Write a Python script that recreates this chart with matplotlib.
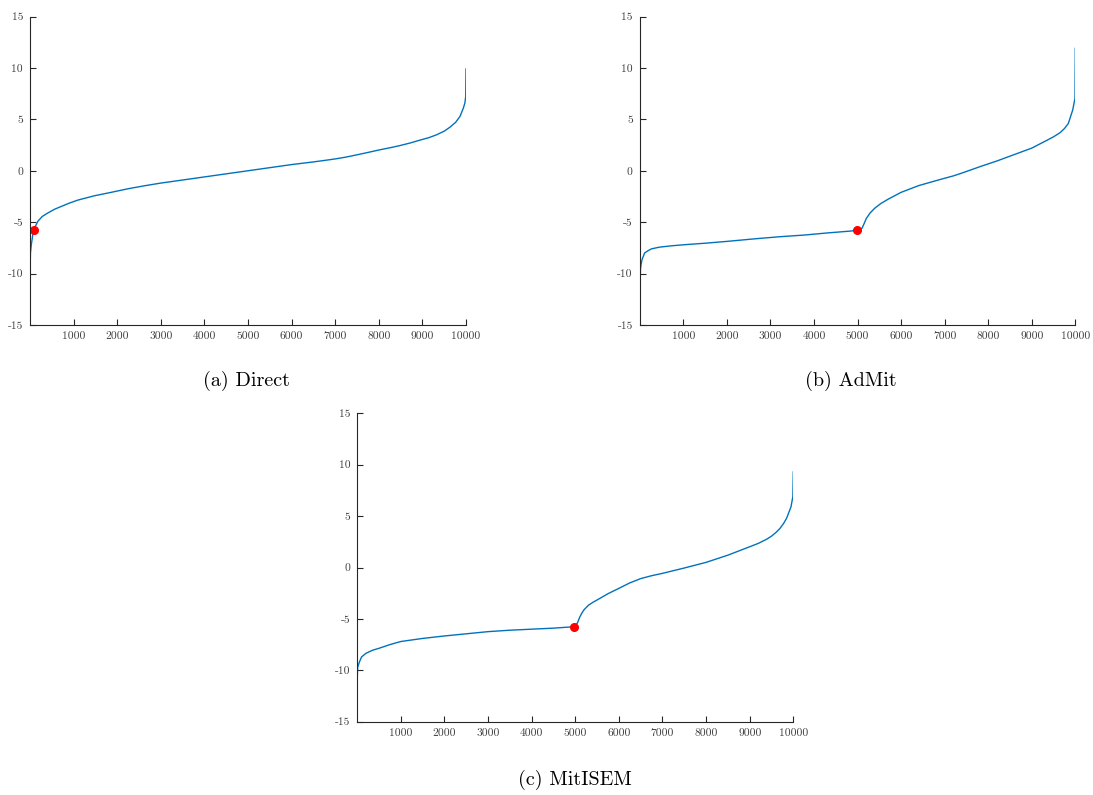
import matplotlib
matplotlib.use("Agg")
import matplotlib.pyplot as plt

plt.rcParams['font.family'] = ['cmr10', 'DejaVu Serif']
plt.rcParams['axes.unicode_minus'] = False
plt.rcParams['mathtext.fontset'] = 'cm'

# ---- data (sorted sample values) ----
direct_x = [1, 10, 30, 70, 90, 130, 183, 280, 412, 560, 718, 900, 1100, 1480, 1862,
            2250, 2627, 3000, 3500, 4000, 4500, 5000, 5500, 6000, 6500, 6750, 7000,
            7250, 7500, 7750, 8027, 8250, 8486, 8720, 8945, 9150, 9327, 9500, 9633,
            9760, 9862, 9939, 9975, 9993, 10000]
direct_y = [-10.1, -8.0, -7.2, -6.05, -5.73, -5.35, -4.9, -4.45, -4.1, -3.75, -3.47,
            -3.15, -2.85, -2.43, -2.1, -1.75, -1.46, -1.2, -0.9, -0.6, -0.3, 0.0, 0.3,
            0.6, 0.86, 1.0, 1.15, 1.33, 1.55, 1.78, 2.04, 2.23, 2.45, 2.7, 2.98, 3.22,
            3.5, 3.85, 4.24, 4.7, 5.28, 6.09, 6.6, 7.2, 9.9]
direct_marker = (90, -5.73)

admit_x = [1, 5, 15, 30, 50, 110, 180, 265, 450, 725, 1000, 1490, 2000, 2640, 3200,
           3786, 4300, 4857, 4987, 5102, 5150, 5202, 5290, 5393, 5530, 5700, 6000,
           6400, 6730, 7000, 7200, 7400, 7600, 7812, 8200, 8577, 9000, 9343, 9500,
           9649, 9750, 9840, 9940, 9993, 10000]
admit_y = [-14.0, -11.5, -9.6, -9.1, -8.66, -8.0, -7.8, -7.6, -7.43, -7.3, -7.2, -7.05,
           -6.87, -6.62, -6.42, -6.25, -6.05, -5.86, -5.76, -5.6, -5.15, -4.63, -4.1,
           -3.65, -3.2, -2.77, -2.1, -1.45, -1.05, -0.73, -0.5, -0.22, 0.08, 0.4, 0.95,
           1.54, 2.2, 2.95, 3.3, 3.7, 4.1, 4.6, 5.9, 7.05, 11.9]
admit_marker = (4987, -5.76)

mitisem_x = [1, 10, 50, 100, 200, 350, 500, 750, 1000, 1500, 2000, 2500, 3000, 3500,
             4000, 4500, 4973, 5050, 5100, 5150, 5200, 5300, 5400, 5500, 5750, 6000,
             6250, 6500, 6750, 7000, 7500, 8000, 8500, 9007, 9200, 9389, 9500, 9600,
             9694, 9780, 9847, 9947, 9990, 10000]
mitisem_y = [-10.8, -9.7, -9.2, -8.7, -8.35, -8.05, -7.86, -7.5, -7.2, -6.9, -6.66,
             -6.45, -6.24, -6.1, -6.0, -5.9, -5.76, -5.4, -4.85, -4.45, -4.12, -3.68,
             -3.4, -3.16, -2.55, -2.03, -1.5, -1.08, -0.8, -0.57, -0.05, 0.5, 1.2, 2.03,
             2.35, 2.75, 3.05, 3.4, 3.8, 4.3, 4.8, 5.9, 6.9, 9.3]
mitisem_marker = (4973, -5.76)

captions = ["(a) Direct", "(b) AdMit", "(c) MitISEM"]
x_ticks = [1000, 2000, 3000, 4000, 5000, 6000, 7000, 8000, 9000, 10000]
y_ticks = [-15, -10, -5, 0, 5, 10, 15]

W, H = 1093, 795
fig = plt.figure(figsize=(W / 100, H / 100), dpi=100)

# axes rectangles in pixels: left, top, right, bottom
rects = [(30, 16.5, 466, 325), (639.8, 16.5, 1075.3, 325), (357.2, 413.3, 793.3, 721.7)]
series = [(direct_x, direct_y, direct_marker),
          (admit_x, admit_y, admit_marker),
          (mitisem_x, mitisem_y, mitisem_marker)]
cap_pos = [(246, 381), (851, 381), (575, 780)]

dark = '#262626'
for (l, t, r, b), (xs, ys, mk), cap, (cx, cy) in zip(rects, series, captions, cap_pos):
    ax = fig.add_axes([l / W, 1 - b / H, (r - l) / W, (b - t) / H])
    ax.plot(xs, ys, color='#0072BD', lw=1.0)
    ax.plot([mk[0]], [mk[1]], 'o', color='#FF0000', ms=5.5, mec='#FF0000')
    ax.set_xlim(0, 10000)
    ax.set_ylim(-15, 15)
    ax.set_xticks(x_ticks)
    ax.set_yticks(y_ticks)
    for s in ['top', 'right']:
        ax.spines[s].set_visible(False)
    for s in ['left', 'bottom']:
        ax.spines[s].set_color(dark)
        ax.spines[s].set_linewidth(0.8)
    ax.tick_params(direction='in', length=4, width=0.8, colors=dark,
                   labelsize=8.3, pad=5, labelcolor='#404040')
    fig.text(cx / W, 1 - cy / H, cap, ha='center', va='center', fontsize=14.5,
             color='black')

fig.savefig('out.png', dpi=100)
